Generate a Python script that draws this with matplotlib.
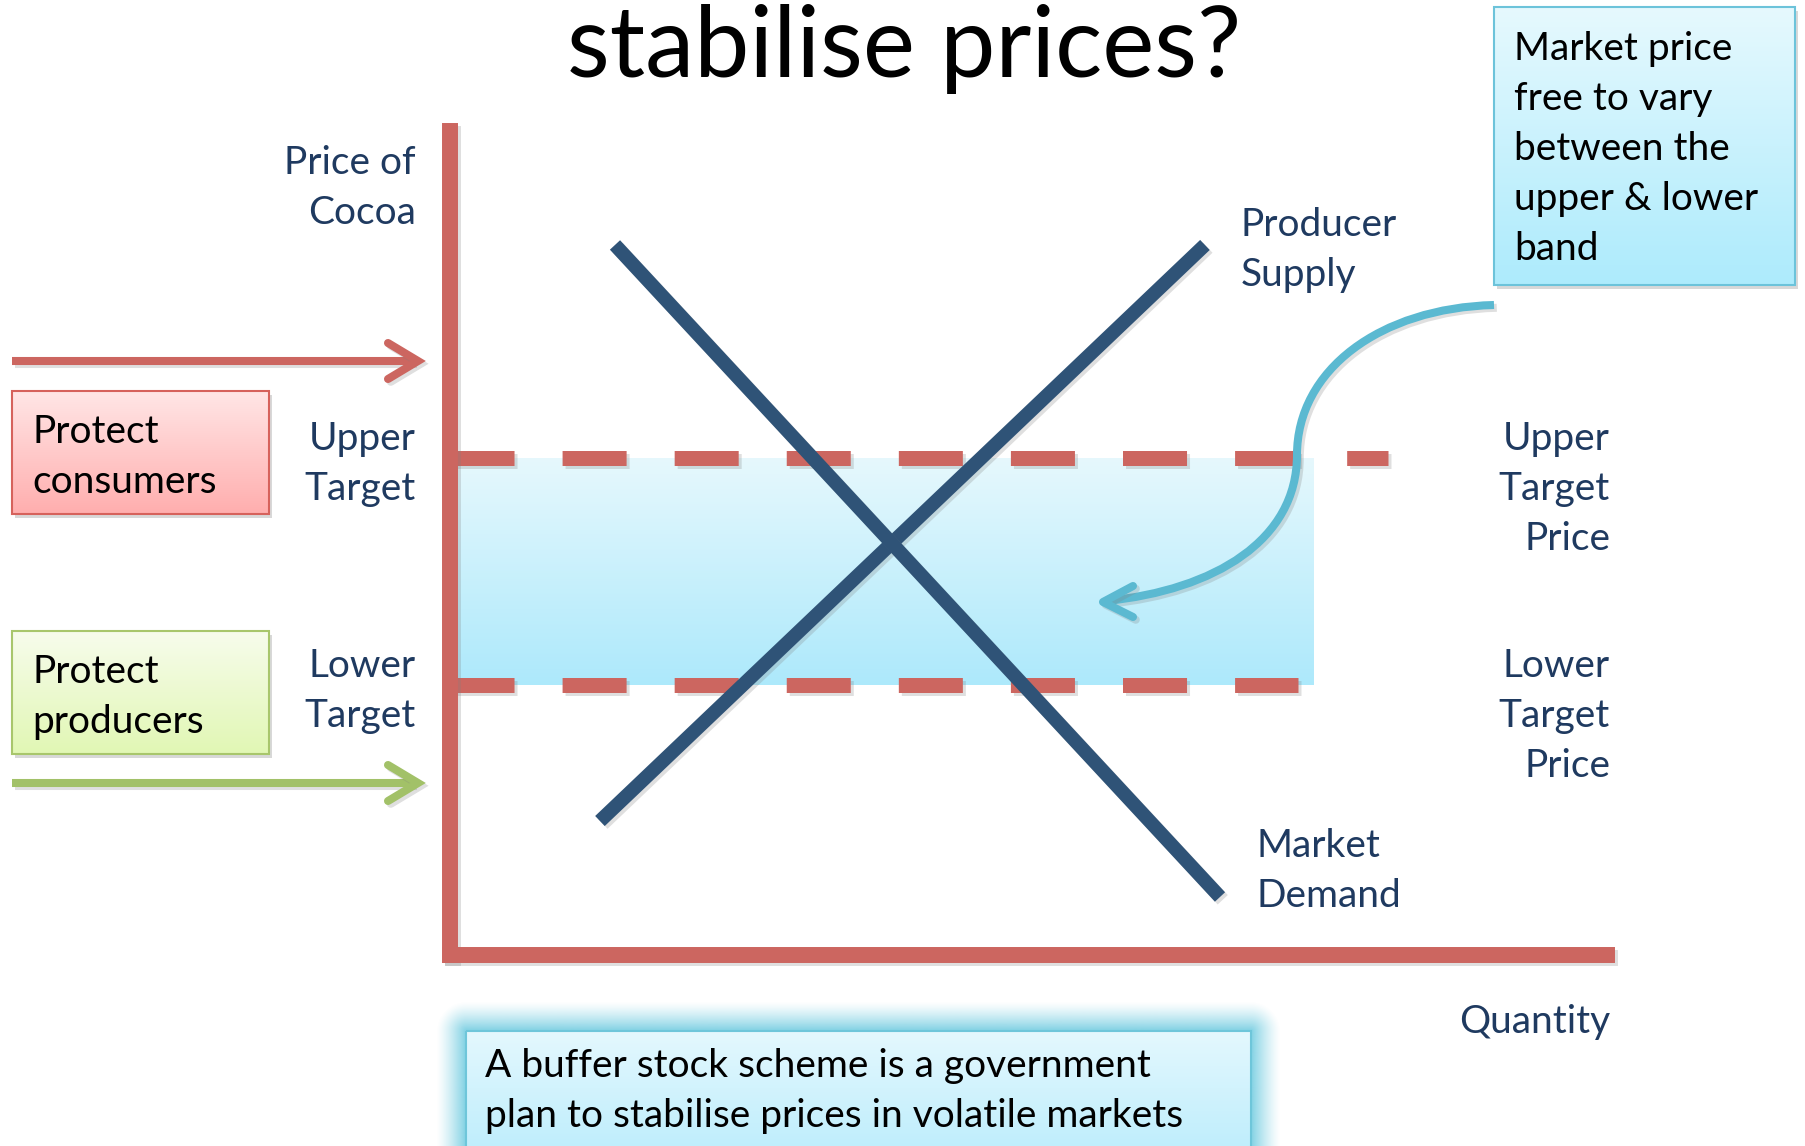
import numpy as np
import matplotlib
matplotlib.use("Agg")
import matplotlib.pyplot as plt
from matplotlib.patches import Rectangle, PathPatch
from matplotlib.path import Path
import matplotlib.patheffects as pe

plt.rcParams['font.family'] = ['Lato', 'DejaVu Sans']
plt.rcParams['lines.scale_dashes'] = False

# ---------------- data (quantity / price units, 0-100) ----------------
supply_q = [12.96, 65.25]
supply_p = [16.26, 86.17]
demand_q = [14.26, 66.55]
demand_p = [86.17, 7.04]
target_prices = [60.3, 32.8]          # upper, lower
target_line_ends = [81.07, 73.3]      # quantity where dashed lines stop
band_q = [0.0, 74.6]

title_text = "stabilise prices?"
y_label = ["Price of", "Cocoa"]
x_label = "Quantity"
left_targets = [["Upper", "Target"], ["Lower", "Target"]]
right_targets = [["Upper", "Target", "Price"], ["Lower", "Target", "Price"]]
supply_label = ["Producer", "Supply"]
demand_label = ["Market", "Demand"]
consumer_box = ["Protect", "consumers"]
producer_box = ["Protect", "producers"]
market_box = ["Market price", "free to vary", "between the", "upper & lower", "band"]
bottom_box = ["A buffer stock scheme is a government",
              "plan to stabilise prices in volatile markets"]

# ---------------- colours ----------------
RED = "#CC6660"
NAVY = "#2F5377"
TXT = "#1F3A60"
GREEN = "#A2C168"
CYAN = "#5BB9D1"

W, H = 1805, 1146
fig = plt.figure(figsize=(W / 100, H / 100), dpi=100)

# overlay axes in pixel coordinates (on top)
ov = fig.add_axes([0, 0, 1, 1], zorder=3)
ov.set_xlim(0, W)
ov.set_ylim(H, 0)
ov.axis('off')
ov.patch.set_alpha(0)

# chart axes
x0, x1, ybot, ytop = 450, 1607, 955, 131
ax = fig.add_axes([x0 / W, (H - ybot) / H, (x1 - x0) / W, (ybot - ytop) / H], zorder=1)
ax.set_xlim(0, 100)
ax.set_ylim(0, 100)
ax.patch.set_alpha(0)
ax.set_xticks([])
ax.set_yticks([])
for s in ['top', 'right']:
    ax.spines[s].set_visible(False)
for s in ['left', 'bottom']:
    ax.spines[s].set_color(RED)
    ax.spines[s].set_linewidth(11.5)
    ax.spines[s].set_capstyle('projecting')
    ax.spines[s].set_path_effects([pe.SimpleLineShadow(offset=(2, -2), alpha=0.25, shadow_color='gray'), pe.Normal()])

shadow = [pe.SimpleLineShadow(offset=(2, -2), alpha=0.25, shadow_color='gray'), pe.Normal()]

# band gradient
grad = np.linspace(0, 1, 256)[:, None]
top_c = np.array(matplotlib.colors.to_rgb("#E6F8FD"))
bot_c = np.array(matplotlib.colors.to_rgb("#ADE9FB"))
img = top_c[None, None, :] * (1 - grad[:, :, None]) + bot_c[None, None, :] * grad[:, :, None]
ax.imshow(img, extent=[band_q[0], band_q[1], target_prices[1], target_prices[0]],
          origin='upper', aspect='auto', zorder=1)
ax.set_xlim(0, 100)
ax.set_ylim(0, 100)

# dashed target lines
for p, qe in zip(target_prices, target_line_ends):
    ax.plot([0, qe], [p, p], color=RED, lw=10.8, dashes=(46.1, 34.6),
            solid_capstyle='butt', dash_capstyle='butt', zorder=2, path_effects=shadow)

# supply & demand
ax.plot(supply_q, supply_p, color=NAVY, lw=10, solid_capstyle='butt', zorder=3, path_effects=shadow)
ax.plot(demand_q, demand_p, color=NAVY, lw=10, solid_capstyle='butt', zorder=3, path_effects=shadow)


def lines(x, y0, texts, dy=50, **kw):
    for i, t in enumerate(texts):
        ov.text(x, y0 + i * dy, t, va='baseline', **kw)


def gbox(xa, ya, xb, yb, ctop, cbot, edge, lw=1.5):
    ov.add_patch(Rectangle((xa + 3, ya + 4), xb - xa, yb - ya, color='gray', alpha=0.3, lw=0, zorder=1))
    tc = np.array(matplotlib.colors.to_rgb(ctop))
    bc = np.array(matplotlib.colors.to_rgb(cbot))
    im = tc[None, None, :] * (1 - grad[:, :, None]) + bc[None, None, :] * grad[:, :, None]
    ov.imshow(im, extent=[xa, xb, yb, ya], origin='upper', aspect='auto', zorder=2)
    ov.add_patch(Rectangle((xa, ya), xb - xa, yb - ya, fill=False, edgecolor=edge, lw=lw, zorder=3))


FS = 28

# title
ov.text(904, 77, title_text, ha='center', va='baseline', fontsize=71, color='black')

# axis labels
lines(416, 174, y_label, ha='right', fontsize=FS, color=TXT)
ov.text(1610, 1033, x_label, ha='right', va='baseline', fontsize=FS, color=TXT)
lines(416, 450, left_targets[0], ha='right', fontsize=FS, color=TXT)
lines(416, 677, left_targets[1], ha='right', fontsize=FS, color=TXT)
lines(1610, 450, right_targets[0], ha='right', fontsize=FS, color=TXT)
lines(1610, 677, right_targets[1], ha='right', fontsize=FS, color=TXT)
lines(1241, 236, supply_label, ha='left', fontsize=FS, color=TXT)
lines(1257, 857, demand_label, ha='left', fontsize=FS, color=TXT)

# side boxes
gbox(12, 391, 269, 514, "#FFE6E6", "#FFAEAE", "#D6625C")
lines(32, 443, consumer_box, ha='left', fontsize=FS, color='black', zorder=4)
gbox(12, 631, 269, 754, "#F7FCEC", "#E1F7B4", "#A8C66C")
lines(32, 683, producer_box, ha='left', fontsize=FS, color='black', zorder=4)
gbox(1494, 7, 1795, 285, "#E6F9FE", "#ADEBFC", "#6CC3DA")
lines(1514, 60, market_box, ha='left', fontsize=FS, color='black', zorder=4)

# straight arrows
for yy, col in [(361, RED), (783, GREEN)]:
    ov.plot([12, 414], [yy, yy], color=col, lw=5.8, solid_capstyle='butt', zorder=4, path_effects=shadow)
    ov.plot([388, 418, 388], [yy - 18, yy, yy + 18], color=col, lw=5.8,
            solid_capstyle='round', solid_joinstyle='miter', zorder=4, path_effects=shadow)

# curved arrow
verts = [(1494, 305), (1380, 308), (1297, 370), (1297, 455),
         (1297, 540), (1215, 590), (1106, 601)]
codes = [Path.MOVETO] + [Path.CURVE4] * 6
ov.add_patch(PathPatch(Path(verts, codes), fill=False, edgecolor=CYAN, lw=5.8, zorder=5,
                       capstyle='butt', path_effects=shadow))
ov.plot([1133, 1103, 1133], [586, 602, 617], color=CYAN, lw=5.8, solid_capstyle='round',
        solid_joinstyle='round', zorder=5, path_effects=shadow)

# bottom box with glow
bx0, by0, bx1, by1 = 466, 1031, 1251, 1160
gx = np.arange(420, 1300)
gy = np.arange(980, H + 1)
GX, GY = np.meshgrid(gx, gy)
dx = np.maximum(np.maximum(bx0 - GX, GX - bx1), 0)
dy = np.maximum(np.maximum(by0 - GY, GY - by1), 0)
d = np.hypot(dx, dy)
alpha = np.clip(1 - d / 30, 0, 1) ** 1.3 * 0.9
glow = np.zeros(GX.shape + (4,))
glow[..., :3] = matplotlib.colors.to_rgb("#6FCBE0")
glow[..., 3] = alpha
ov.imshow(glow, extent=[gx[0], gx[-1], gy[-1], gy[0]], origin='upper', aspect='auto', zorder=1)
tc = np.array(matplotlib.colors.to_rgb("#E4F8FE"))
bc = np.array(matplotlib.colors.to_rgb("#C0EEFC"))
im = tc[None, None, :] * (1 - grad[:, :, None]) + bc[None, None, :] * grad[:, :, None]
ov.imshow(im, extent=[bx0, bx1, H, by0], origin='upper', aspect='auto', zorder=2)
ov.add_patch(Rectangle((bx0, by0), bx1 - bx0, by1 - by0, fill=False, edgecolor="#6EC6DA", lw=1.5, zorder=3))
lines(485, 1077, bottom_box, ha='left', fontsize=FS, color='black', zorder=4)

ov.set_xlim(0, W)
ov.set_ylim(H, 0)

fig.savefig("out.png", dpi=100)
